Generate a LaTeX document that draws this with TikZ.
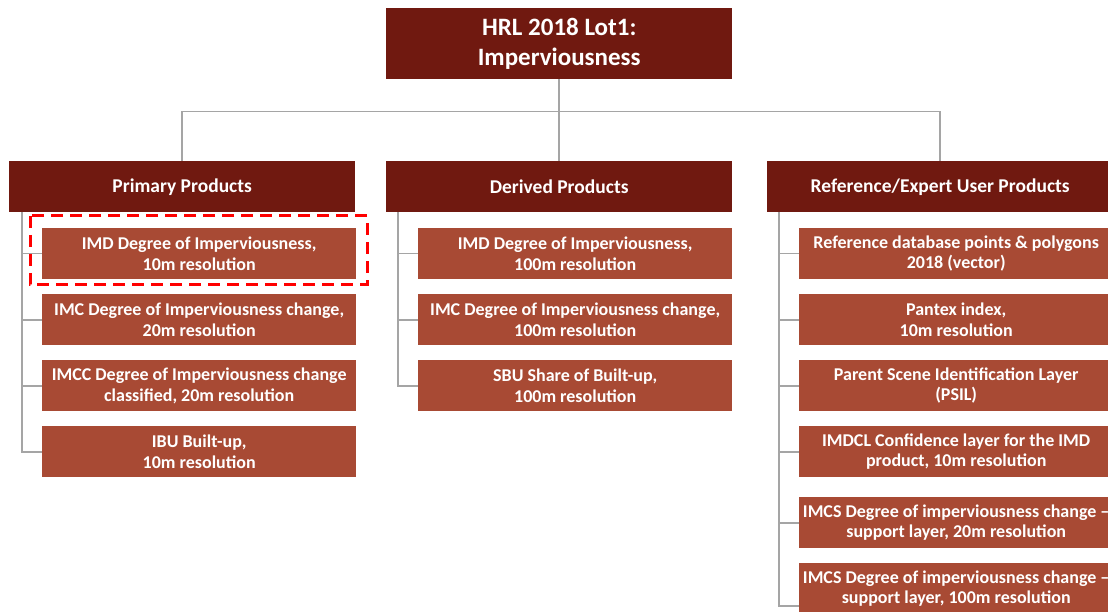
\documentclass[tikz,border=0pt]{standalone}
\usepackage{fontspec}
\setmainfont{Carlito}
\usetikzlibrary{positioning,calc}
\definecolor{hrldark}{RGB}{112,25,16}
\definecolor{hrlbox}{RGB}{168,74,52}
\definecolor{hrlline}{RGB}{165,165,165}
\tikzset{rootbox/.style={fill=hrldark,text=white,font=\fontsize{25}{30}\selectfont\bfseries,minimum width=346pt,minimum height=71pt,align=center,inner sep=0pt}}
\tikzset{headbox/.style={fill=hrldark,text=white,font=\fontsize{19.5}{23}\selectfont\bfseries,minimum width=346pt,minimum height=51pt,align=center,inner sep=0pt}}
\tikzset{prodbox/.style={fill=hrlbox,text=white,font=\fontsize{18}{20.5}\selectfont\bfseries,minimum width=314pt,minimum height=51pt,align=center,inner sep=0pt}}
\tikzset{link/.style={draw=hrlline,line width=1.6pt}}

\begin{document}
\begin{tikzpicture}[x=1pt,y=-1pt]
    \useasboundingbox (0,0) rectangle (1108,612);
    \clip (0,0) rectangle (1108,612);

    % top and column headers
    \node[rootbox,anchor=north west] (root) at (386,8) {HRL 2018 Lot1:\\Imperviousness};
    \node[headbox,anchor=north west] (prim) at (9,161) {Primary Products};
    \node[headbox,anchor=north west] (deriv) at (386,161) {Derived Products};
    \node[headbox,anchor=north west] (ref) at (767,161) {Reference/Expert User Products};

    % primary products
    \node[prodbox,anchor=north west] (p1) at (42,228) {IMD Degree of Imperviousness,\\10m resolution};
    \node[prodbox,anchor=north west] (p2) at (42,294) {IMC Degree of Imperviousness change,\\20m resolution};
    \node[prodbox,anchor=north west] (p3) at (42,360) {IMCC Degree of Imperviousness change\\classified, 20m resolution};
    \node[prodbox,anchor=north west] (p4) at (42,426) {IBU Built-up,\\10m resolution};

    % derived products
    \node[prodbox,anchor=north west] (d1) at (418,228) {IMD Degree of Imperviousness,\\100m resolution};
    \node[prodbox,anchor=north west] (d2) at (418,294) {IMC Degree of Imperviousness change,\\100m resolution};
    \node[prodbox,anchor=north west] (d3) at (418,360) {SBU Share of Built-up,\\100m resolution};

    % reference/expert user products
    \node[prodbox,anchor=north west] (r1) at (799,228) {Reference database points \& polygons\\2018 (vector)};
    \node[prodbox,anchor=north west] (r2) at (799,294) {Pantex index,\\10m resolution};
    \node[prodbox,anchor=north west] (r3) at (799,360) {Parent Scene Identification Layer\\(PSIL)};
    \node[prodbox,anchor=north west] (r4) at (799,426) {IMDCL Confidence layer for the IMD\\product, 10m resolution};
    \node[prodbox,anchor=north west] (r5) at (799,497) {IMCS Degree of imperviousness change --\\support layer, 20m resolution};
    \node[prodbox,anchor=north west] (r6) at (799,563) {IMCS Degree of imperviousness change --\\support layer, 100m resolution};

    % connectors
    \coordinate (bus) at ($(root.south)+(0,32)$);
    \draw[link] (root.south) -- (deriv.north);
    \draw[link] (prim.north) |- (bus) -| (ref.north);
    \foreach \c in {p1,p2,p3,p4}
      \draw[link] ([xshift=13pt]prim.south west) |- (\c.west);
    \foreach \c in {d1,d2,d3}
      \draw[link] ([xshift=12pt]deriv.south west) |- (\c.west);
    \foreach \c in {r1,r2,r3,r4,r5}
      \draw[link] ([xshift=12pt]ref.south west) |- (\c.west);
    \draw[link] ([xshift=12pt]ref.south west) |- ([yshift=-17pt]r6.west);

    % highlight
    \draw[red,line width=3pt,dash pattern=on 12pt off 7pt] (30,216) rectangle (367,285);
\end{tikzpicture}
\end{document}
